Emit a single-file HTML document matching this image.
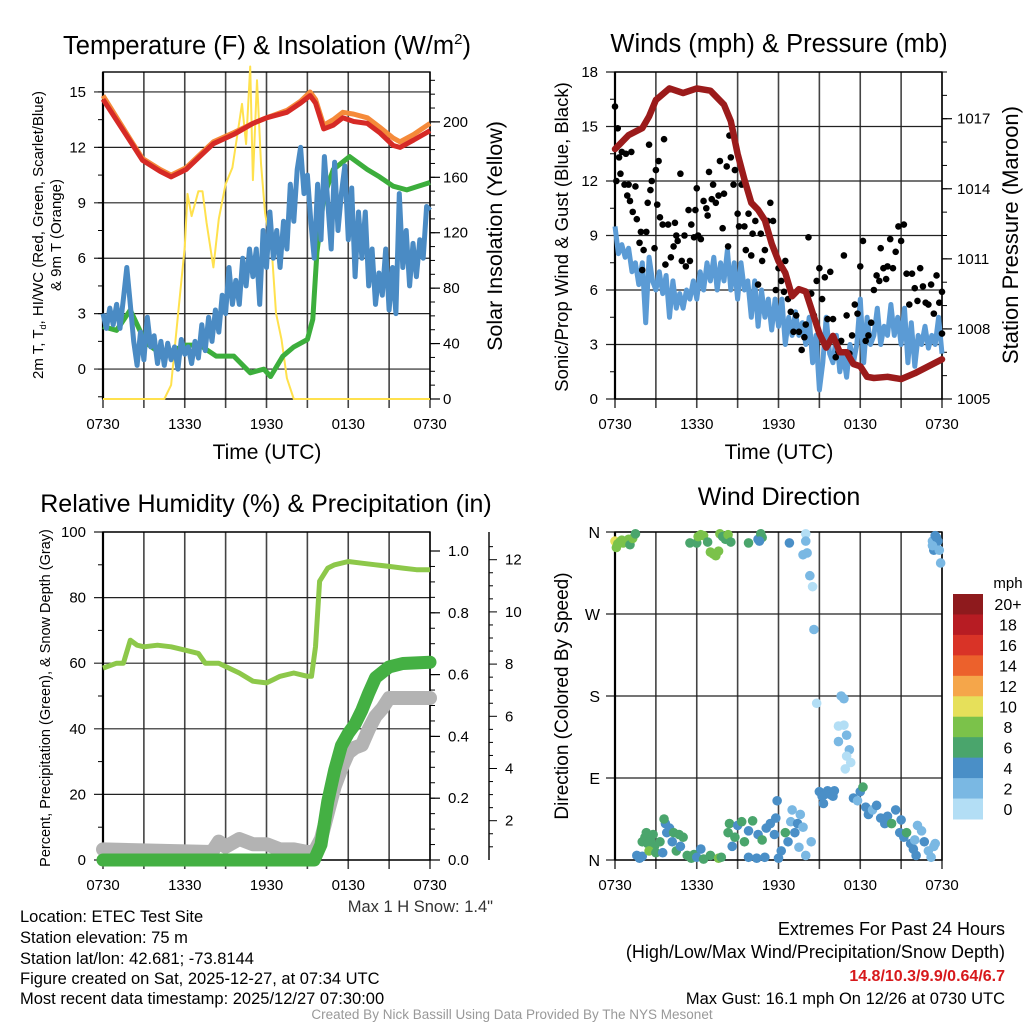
<!DOCTYPE html>
<html><head><meta charset="utf-8">
<style>
html,body{margin:0;padding:0;background:#fff;}
svg{display:block;font-family:"Liberation Sans",Arial,sans-serif;}
</style></head><body>
<svg id="fig" width="1024" height="1024" viewBox="0 0 1024 1024" xmlns="http://www.w3.org/2000/svg">
<rect width="1024" height="1024" fill="#fff"/>
<g id="g1"></g>
<g id="g2"></g>
<g id="g3"></g>
<g id="g4"></g>
<g id="txt">
<text x="20" y="922" font-size="16.5">Location: ETEC Test Site</text>
<text x="20" y="943" font-size="16.5">Station elevation: 75 m</text>
<text x="20" y="964" font-size="16.5">Station lat/lon: 42.681; -73.8144</text>
<text x="20" y="984" font-size="16.5">Figure created on Sat, 2025-12-27, at 07:34 UTC</text>
<text x="20" y="1004" font-size="16.5">Most recent data timestamp: 2025/12/27 07:30:00</text>
<text x="1005" y="935" font-size="18" text-anchor="end">Extremes For Past 24 Hours</text>
<text x="1005" y="958" font-size="18" text-anchor="end">(High/Low/Max Wind/Precipitation/Snow Depth)</text>
<text x="1005" y="981" font-size="16" font-weight="bold" fill="#d7191c" text-anchor="end">14.8/10.3/9.9/0.64/6.7</text>
<text x="1005" y="1004" font-size="16.5" text-anchor="end">Max Gust: 16.1 mph On 12/26 at 0730 UTC</text>
<text x="512" y="1019" font-size="13.5" fill="#999" text-anchor="middle">Created By Nick Bassill Using Data Provided By The NYS Mesonet</text>
<text x="493" y="912" font-size="16.5" fill="#333" text-anchor="end">Max 1 H Snow: 1.4"</text>
</g>
</svg>
<script>
// ---------- data ----------
const xTickLabels = ["0730","1330","1930","0130","0730"];
const tempT = [0,2.2,2.9,4.2,5.0,6.1,7.1,8.1,9.6,11.0,12.0,13.5,14.5,15.2,15.6,16.2,16.9,17.6,18.4,19.4,20.3,21.3,21.8,22.8,24];
const tempRed = [14.6,12.1,11.3,10.7,10.4,10.8,11.5,12.2,12.7,13.3,13.6,13.9,14.4,14.8,14.4,13.0,13.2,13.6,13.4,13.3,12.8,12.1,12.0,12.4,12.9];
const tempOrange = [14.8,12.2,11.4,10.8,10.5,10.9,11.6,12.3,12.8,13.3,13.6,14.0,14.5,15.0,14.6,13.2,13.5,13.9,13.8,13.6,13.1,12.5,12.3,12.7,13.3];
const dewT = [0,1,2,2.7,3.2,4.2,5.1,6.1,7.1,8.3,9.6,10.8,11.8,12.3,13.2,14,15,15.4,15.7,16.2,16.9,18.1,19.4,20.3,21.3,22.3,24];
const dewGreen = [2.3,2.1,3.2,2.1,1.4,0.85,1.0,1.3,1.3,0.7,0.7,-0.2,0,-0.4,0.7,1.2,1.6,2.7,6.3,9.3,10.8,11.5,10.8,10.4,9.9,9.7,10.1];
const hiwcBlue = [3,2.2,3.3,2.4, 3.5,2.2,3.8,5.5, 3.5,1.5,0.2,2, 0.5,2.8,1.2,1.8, 0.3,1.5,0.2,1.4, 0.5,1.2,0,1.6, 0.8,1.2,0.3,1.5, 0.6,2.4,1,2.8, 1.5,3.2,2,4, 3,5.5,3.5,4.8, 3.5,6,4.5,6.5, 5,6.5,3.5,7.5, 5.5,8.5,6,7.5, 5.5,8,6.5,10, 8,10.8,12,9.5, 10.5,8,6,10, 7,11.5,9,6.5, 11.2,7.5,9.5,11, 7,9.8,5,8.5, 6,8.5,4.5,6.5, 3.5,5.2,4,6.5, 3.2,5.5,3,9.5, 5.5,7.5,4.5,6.8, 5,7,6,8.8, 8.6];
const solarT = [0,4.5,5,5.5,6,6.2,6.5,7,7.3,7.6,8.1,8.5,9,9.5,10,10.2,10.5,10.8,11,11.3,11.6,11.9,12.4,12.7,13.1,13.5,14,24];
const solarW = [0,0,10,60,110,148,132,150,150,127,95,130,155,167,200,213,184,240,158,230,170,134,105,62,43,15,0,0];

const windBlue = [9.5,8,8.5,7.8, 8.3,7,7.5,6.3, 7.5,4.2,7.8,6.5, 6,7,5.8,6.8, 4.5,6.5,5,5.8, 5,6,5.5,6.5, 5.5,7,6,7.5, 6.5,7.8,6,7.5, 6.5,8.2,6,7.5, 5.5,7.5,6,6.5, 4.5,6.5,4,6, 4.5,5.5,3.8,5.5, 4,5.5,3,4.5, 3.5,4.8,3.5,4.2, 3,4.5,2,3.5, 0.5,2,4.5,2.5, 2,3.5,1.5,2.5, 1.2,3,2,3, 5.5,2,4.5,3, 3.5,5,3,4, 3.5,5.2,3.5,4.5, 3,5,2,4.2, 1.8,3.5,3,4, 2.8,3.5,3,4.5, 2.5];
const presT = [0,1,2,2.5,3,4,5,6,7,8,8.5,9,9.5,10,10.5,11,11.5,12,12.5,13,13.5,14,14.5,15,15.5,16,16.5,17,17.5,18,18.5,19,20,21,22,23,24];
const presMb = [1015.7,1016.3,1016.6,1017.1,1017.8,1018.3,1018.1,1018.3,1018.2,1017.6,1016.9,1015.5,1014.4,1013.4,1013.1,1012.65,1011.65,1010.9,1010.4,1009.4,1009.7,1009.6,1008.7,1007.8,1007.2,1007.7,1007.0,1007.0,1006.5,1006.4,1005.95,1005.9,1005.95,1005.85,1006.1,1006.4,1006.7];
const gustT = [0,0.1,0.2,0.3,0.4,0.5,0.7,0.8,0.9,1,1.1,1.2,1.3,1.5,1.6,1.8,1.9,2,2.1,2.3,2.4,2.5,2.6,2.7,2.9,3,3.1,3.2,3.3,3.5,3.6,3.7,3.9,4.1,4.3,4.4,4.5,4.6,4.8,4.9,5.1,5.2,5.4,5.5,5.6,5.8,5.9,6.0,6.1,6.3,6.5,6.7,6.8,6.9,7.1,7.2,7.4,7.6,7.7,7.9,8.0,8.2,8.3,8.4,8.5,8.7,8.8,9,9.1,9.3,9.5,9.6,9.8,10,10.1,10.3,10.5,10.7,10.8,11,11.2,11.4,11.6,11.8,12,12.2,12.4,12.5,12.7,12.9,13.1,13.3,13.5,13.7,13.9,14.0,14.2,14.4,14.6,14.8,15,15.2,15.4,15.6,15.8,16,16.2,16.4,16.6,16.8,17,17.2,17.4,17.6,17.8,18,18.2,18.4,18.6,18.8,19,19.2,19.4,19.5,19.7,19.9,20,20.2,20.4,20.6,20.8,21,21.2,21.4,21.6,21.8,22,22.2,22.4,22.6,22.8,23,23.2,23.4,23.6,23.8,24,24];
const gustV = [16.1,12,14.9,13.3,12.4,13.6,11.8,13.5,11.2,11.8,10.9,13.6,10.3,11.7,9.9,8.6,9.2,7.1,8.2,9.2,10.8,14,11.5,12,8.3,12.6,10.7,13.1,10,9.6,14.3,7.4,9.6,7.8,8.4,9.7,9,8.7,12.4,7.6,9,7.3,10.4,7.6,9.6,8.9,10.4,11.6,9,8.8,10.9,10.5,10.1,12.5,11,11.8,10.8,11.2,13.1,9.4,11.3,12.8,8.4,14.5,13.3,11.8,12.6,10.2,9.5,11.8,9.5,8.2,10.2,7.9,9.1,9.8,6.3,9.1,7.6,8.2,9.8,10.8,9.8,6,7.2,6.5,5.9,7.6,5.5,4.8,3.7,4.6,3.7,2.7,3.4,4.1,8.9,5.8,4.6,6.5,7.2,5.5,6.7,4.4,7,4.4,2.3,2.6,3.2,7.9,4.6,2.5,3.5,5.2,4.7,7.3,8.7,3.2,3.5,4.2,6,6.8,6.5,8.3,7.2,6.6,7.3,8.8,7.2,8.1,9.5,8.7,9.6,6.9,5.2,6.9,6.1,5.4,7.2,6.2,5.3,5.2,6.3,4.7,6.8,5.3,5.9,3.6];

const rhT = [0,1,1.5,2,2.5,3,4,5,6,7,7.5,8.5,9.5,10,11,12,12.5,13,14,15,15.3,15.6,15.9,16.5,17,18,19,20,21,22,23,24];
const rhPct = [58.5,60,60,67,65.5,65,65.5,65,64,63,60,60,58,57,54.5,54,55,56,57,56,56,65,85,89,90,91,90.5,90,89.5,89,88.5,88.5];
const precipT = [0,15.5,16,16.5,17,17.5,18,18.5,19,19.5,20,21,22,24];
const precipIn = [0,0,0.05,0.19,0.29,0.37,0.41,0.44,0.485,0.54,0.59,0.625,0.636,0.64];
const snowT = [0,8,8.5,9,10,11,12,13,14,15,15.5,16,16.5,17,17.5,18,18.5,19,19.5,20,20.5,21,24];
const snowIn = [0.9,0.8,1.2,1.0,1.3,1.1,1.1,0.9,0.9,0.8,0.8,1.3,2.3,3.3,4.0,4.6,4.8,4.9,5.5,6.0,6.3,6.7,6.7];

const wdTime = [0,0.1,0.2,0.35,0.5,0.6,0.8,1.0,1.1,1.3,1.5, 5.5,6.0,6.1,6.3,6.5,6.8,7.0,7.2,7.4,7.6,7.7,7.9,8.1,8.3,8.5,9.8,10.5,10.7,10.8,10.6,12.8, 14.0,14.0,13.8,14.1,14.3,14.5,14.6,14.8, 16.6,16.8,16.4,16.8,17.0,16.4,17.2,17.0,17.3,16.9, 23.3,23.5,23.6,23.7,23.4,23.8,23.9,23.3, 1.6,1.8,2.0,2.0,2.2,2.4,2.3,2.6,2.8,2.9,2.5,3.0,3.3,3.5,3.7,3.8,3.6,4.0,4.2,4.3,4.5,4.7,5.0,4.8,5.3,5.6,5.8,6.0,6.3,6.5,7.0,7.6,7.8,8.3,8.4,8.6,8.8,9.0,9.3,9.5,9.8,9.8,10.1,10.5,10.8,10.4,11.0,11.1,11.4,11.7,11.8,11.9,12.0,12.2,12.5,12.7,12.9,13.0,13.2,13.4,13.6,13.8,13.5,14.0,14.4,15.0,15.2,15.4,15.6,15.8,16.0,15.3,16.1,17.5,17.8,18.0,18.2,18.4,18.6,18.9,19.2,19.5,19.8,20.0,20.3,20.6,21.0,20.9,21.2,21.4,21.7,21.9,22.0,22.2,22.5,22.1,22.7,23.0,23.2,23.4,23.5];
const wdDir = [350,343,347,349,351,348,350,352,346,353,358, 348,348,355,357,356,349,338,336,334,339,358,355,352,357,349,348,352,358,354,350,348, 358,350,335,337,312,300,253,172, 180,177,147,148,137,130,121,114,107,100, 350,356,354,350,340,340,326,345, 5,2,4,20,25,18,30,22,28,15,10,8,20,8,40,30,45,35,20,30,10,28,25,15,5,2,6,3,12,1,5,2,3,30,40,15,25,38,42,20,3,32,43,28,22,2,3,35,40,28,46,65,2,10,30,20,42,55,30,40,50,36,14,5,20,75,70,72,76,72,70,62,76,68,65,75,80,58,50,55,60,46,40,48,40,55,44,30,25,30,18,12,22,38,32,5,20,10,3,15,18];
const wdSpeed = [10,8,8,8,8,8,8,8,6,8,6, 6,6,8,8,8,6,8,8,8,8,8,6,6,8,6,6,4,6,6,4,4, 0,2,2,2,2,0,2,0, 2,2,0,0,2,2,2,0,0,0, 2,4,4,4,4,2,2,2, 4,4,4,6,6,6,6,6,6,6,8,6,6,4,4,4,6,4,4,6,6,6,6,4,6,6,6,4,4,6,6,8,6,6,6,4,6,4,6,6,4,4,6,4,6,4,4,4,4,4,4,4,4,4,6,4,2,2,4,4,2,2,2,2,2,4,4,4,4,4,4,4,4,4,2,4,6,4,4,2,4,4,4,4,6,4,4,4,4,6,4,4,2,2,2,4,4,2,2,2,2];
const speedColors = ["#b3def5","#7ab8e3","#4a8fc7","#4aa56c","#7bc24a","#e6e05a","#f5a64a","#ec612c","#d93327","#b71c23","#8e1a1d"];
const speedLabels = ["0","2","4","6","8","10","12","14","16","18","20+"];

// ---------- helpers ----------
const NS="http://www.w3.org/2000/svg";
function mk(parent, tag, attrs){const e=document.createElementNS(NS,tag);for(const k in attrs)e.setAttribute(k,attrs[k]);parent.appendChild(e);return e;}
function lin(d0,d1,r0,r1){return v=>r0+(v-d0)*(r1-r0)/(d1-d0);}
function txt(parent,x,y,s,size,anchor,extra){const t=mk(parent,'text',{x:x,y:y,'font-size':size,'text-anchor':anchor||'start'});if(extra)for(const k in extra)t.setAttribute(k,extra[k]);t.textContent=s;return t;}
function pathD(xs,ys,sx,sy){let d='';for(let i=0;i<xs.length;i++){if(ys[i]==null)continue;d+=(d?'L':'M')+sx(xs[i]).toFixed(1)+','+sy(ys[i]).toFixed(1);}return d;}

function frame(g,P,hLines){
  for(let h=0;h<=24;h+=3){const x=P.sx(h);
    const l=mk(g,'line',{x1:x,y1:P.y0,x2:x,y2:P.y1+9,stroke:'#444','stroke-width':1.6});
    
    }
  hLines.forEach(y=>{const l=mk(g,'line',{x1:P.x0-9,y1:y,x2:P.x1,y2:y,stroke:'#222','stroke-width':1.2});
    
    });
  mk(g,'rect',{x:P.x0,y:P.y0,width:P.x1-P.x0,height:P.y1-P.y0,fill:'none',stroke:'#000','stroke-width':1.4});
  mk(g,'line',{x1:P.x0,y1:P.y0,x2:P.x0,y2:P.y1,stroke:'#000','stroke-width':2.2});
  xTickLabels.forEach((s,i)=>{const t=txt(g,P.sx(i*6),P.y1+30,s,15,'middle');
    
    });
}
function rightTicks(g,P,x,sy,major,minor){
  minor.forEach(v=>mk(g,'line',{x1:x,y1:sy(v),x2:x+5,y2:sy(v),stroke:'#000','stroke-width':1}));
  major.forEach(v=>mk(g,'line',{x1:x,y1:sy(v),x2:x+10,y2:sy(v),stroke:'#000','stroke-width':1.2}));
}

// ---------- panel 1 ----------
(function(){
const g=document.getElementById('g1');
const P={x0:103,x1:430,y0:72,y1:399};P.sx=lin(0,24,P.x0,P.x1);
const sy=lin(-1.62,16.08,P.y1,P.y0), syR=lin(0,236,P.y1,P.y0);
frame(g,P,[0,3,6,9,12,15].map(sy));
for(let v=-1.5;v<=16;v+=1.5){mk(g,'line',{x1:P.x0-5,y1:sy(v),x2:P.x0,y2:sy(v),stroke:'#000'});}
[0,3,6,9,12,15].forEach(v=>{const t=txt(g,86,sy(v)+5,String(v),15,'end');});
const maj=[0,40,80,120,160,200],mn=[];for(let v=0;v<=230;v+=10)mn.push(v);
rightTicks(g,P,P.x1,syR,maj,mn);
maj.forEach(v=>txt(g,443,syR(v)+5,String(v),15,'start'));
let p;
p=mk(g,'path',{d:pathD(solarT,solarW,P.sx,syR),fill:'none',stroke:'#ffe14d','stroke-width':2,'stroke-linejoin':'round'});

p=mk(g,'path',{d:pathD(dewT,dewGreen,P.sx,sy),fill:'none',stroke:'#3cae3c','stroke-width':5,'stroke-linejoin':'round'});

const tq=hiwcBlue.map((v,i)=>i*0.25);
p=mk(g,'path',{d:pathD(tq,hiwcBlue,P.sx,sy),fill:'none',stroke:'#4a8bc4','stroke-width':5,'stroke-linejoin':'round'});

p=mk(g,'path',{d:pathD(tempT,tempOrange,P.sx,sy),fill:'none',stroke:'#f58a3a','stroke-width':5,'stroke-linejoin':'round'});

p=mk(g,'path',{d:pathD(tempT,tempRed,P.sx,sy),fill:'none',stroke:'#d62a26','stroke-width':5,'stroke-linejoin':'round'});

const title=mk(g,'text',{x:267,y:54,'font-size':25.5,'text-anchor':'middle'});
title.innerHTML='Temperature (F) &amp; Insolation (W/m<tspan dy="-10" font-size="15">2</tspan><tspan dy="10">)</tspan>';

txt(g,267,459,'Time (UTC)',21,'middle',{});
const yl=mk(g,'text',{transform:'translate(43,235) rotate(-90)','font-size':15,'text-anchor':'middle'});
yl.innerHTML='2m T, T<tspan font-size="9" dy="3">d</tspan><tspan dy="-3">, HI/WC (Red, Green, Scarlet/Blue)</tspan>';

txt(g,0,0,'& 9m T (Orange)',15,'middle',{transform:'translate(61,235) rotate(-90)'});
txt(g,0,0,'Solar Insolation (Yellow)',21.5,'middle',{transform:'translate(502,236) rotate(-90)',});
})();

// ---------- panel 2 ----------
(function(){
const g=document.getElementById('g2');
const P={x0:615,x1:942,y0:72,y1:399};P.sx=lin(0,24,P.x0,P.x1);
const sy=lin(0,18,P.y1,P.y0), syR=lin(1005,1019,P.y1,P.y0);
frame(g,P,[0,3,6,9,12,15,18].map(sy));
for(let v=1.5;v<18;v+=3){mk(g,'line',{x1:P.x0-5,y1:sy(v),x2:P.x0,y2:sy(v),stroke:'#000'});}
[0,3,6,9,12,15,18].forEach(v=>txt(g,598,sy(v)+5,String(v),15,'end'));
const maj=[1005,1008,1011,1014,1017],mn=[];for(let v=1005;v<=1019;v+=1)mn.push(v);
rightTicks(g,P,P.x1,syR,maj,mn);
maj.forEach(v=>txt(g,957,syR(v)+5,String(v),15,'start'));
const tq=windBlue.map((v,i)=>i*0.25);
let p=mk(g,'path',{d:pathD(tq,windBlue,P.sx,sy),fill:'none',stroke:'#5b9bd5','stroke-width':5,'stroke-linejoin':'round'});

gustT.forEach((t,i)=>{const c=mk(g,'circle',{cx:P.sx(t),cy:sy(gustV[i]),r:3.3,fill:'#000'});
  
  });
p=mk(g,'path',{d:pathD(presT,presMb,P.sx,syR),fill:'none',stroke:'#9b1b1b','stroke-width':6.5,'stroke-linejoin':'round','stroke-linecap':'round'});

txt(g,779,52,'Winds (mph) & Pressure (mb)',25.5,'middle',{});
txt(g,779,459,'Time (UTC)',21,'middle',{});
txt(g,0,0,'Sonic/Prop Wind & Gust (Blue, Black)',18.5,'middle',{transform:'translate(568,237) rotate(-90)',});
txt(g,0,0,'Station Pressure (Maroon)',22,'middle',{transform:'translate(1018,235) rotate(-90)',});
})();

// ---------- panel 3 ----------
(function(){
const g=document.getElementById('g3');
const P={x0:103,x1:430,y0:532,y1:860};P.sx=lin(0,24,P.x0,P.x1);
const sy=lin(0,100,P.y1,P.y0), syR=lin(0,1.0615,P.y1,P.y0), sS=v=>872.9-26.1*v;
frame(g,P,[0,20,40,60,80,100].map(sy));
for(let v=10;v<100;v+=20){mk(g,'line',{x1:P.x0-5,y1:sy(v),x2:P.x0,y2:sy(v),stroke:'#000'});}
[0,20,40,60,80,100].forEach(v=>txt(g,86,sy(v)+5,String(v),15,'end'));
const maj=[0,0.2,0.4,0.6,0.8,1.0],mn=[];for(let v=0;v<=1.05;v+=0.05)mn.push(v);
rightTicks(g,P,P.x1,syR,maj,mn);
maj.forEach(v=>txt(g,448,syR(v)+5,v.toFixed(1),15,'start'));
mk(g,'line',{x1:489,y1:532,x2:489,y2:860,stroke:'#000','stroke-width':1.4});
for(let v=1;v<=12.5;v+=0.5){mk(g,'line',{x1:489,y1:sS(v),x2:v%2===0?497:493,y2:sS(v),stroke:'#000'});}
[2,4,6,8,10,12].forEach(v=>txt(g,505,sS(v)+5,String(v),15,'start'));
let p=mk(g,'path',{d:pathD(snowT,snowIn,P.sx,sS),fill:'none',stroke:'#b3b3b3','stroke-width':14,'stroke-linejoin':'round','stroke-linecap':'round'});

p=mk(g,'path',{d:pathD(precipT,precipIn,P.sx,syR),fill:'none',stroke:'#44b043','stroke-width':13,'stroke-linejoin':'round','stroke-linecap':'round'});

p=mk(g,'path',{d:pathD(rhT,rhPct,P.sx,sy),fill:'none',stroke:'#8dc84a','stroke-width':5,'stroke-linejoin':'round'});

txt(g,266,512,'Relative Humidity (%) & Precipitation (in)',25,'middle',{});
txt(g,0,0,'Percent, Precipitation (Green), & Snow Depth (Gray)',14.5,'middle',{transform:'translate(50,698) rotate(-90)',});
})();

// ---------- panel 4 ----------
(function(){
const g=document.getElementById('g4');
const P={x0:615,x1:942,y0:532,y1:860};P.sx=lin(0,24,P.x0,P.x1);
const sy=lin(0,360,P.y1,P.y0);
frame(g,P,[0,90,180,270,360].map(sy));
['N','E','S','W','N'].forEach((s,i)=>txt(g,600,sy(i*90)+6,s,16,'end'));
wdTime.forEach((t,i)=>{const b=Math.min(10,Math.floor(wdSpeed[i]/2));
  const c=mk(g,'circle',{cx:P.sx(t),cy:sy(wdDir[i]),r:4.8,fill:speedColors[b]});
  
  });
txt(g,779,505,'Wind Direction',25,'middle',{});
txt(g,0,0,'Direction (Colored By Speed)',19,'middle',{transform:'translate(568,696) rotate(-90)',});
const x=953,top=594,h=(819-594)/11;
txt(g,1008,588,'mph',15,'middle',{});
for(let i=0;i<11;i++){const idx=10-i;
  const r=mk(g,'rect',{x:x,y:top+i*h,width:30,height:h+0.5,fill:speedColors[idx]});
  
  
  txt(g,1008,top+i*h+h/2+6,speedLabels[idx],16,'middle');}
})();
</script>
</body></html>
